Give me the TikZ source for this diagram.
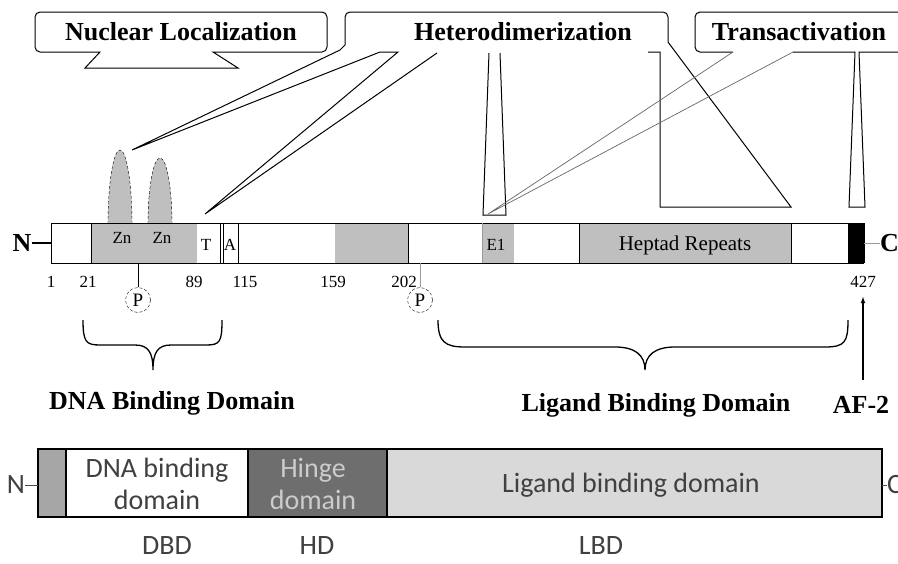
\documentclass[tikz,border=0pt]{standalone}
\usepackage{fontspec}
\setmainfont{Liberation Serif}
\newfontfamily\calib{Carlito}
\usetikzlibrary{arrows}
\tikzstyle{callout}=[line width=1pt]
\tikzstyle{title}=[font=\bfseries\fontsize{26}{28}\selectfont, inner sep=0pt]
\tikzstyle{num}=[font=\fontsize{17}{19}\selectfont, inner sep=0pt]
\tikzstyle{phos}=[circle, draw, densely dashed, thin, minimum size=25pt, inner sep=0pt, font=\fontsize{19}{21}\selectfont]
\tikzstyle{finger}=[fill=black!25, draw, densely dashed, thin]
\tikzstyle{domtext}=[font=\calib\fontsize{28}{32}\selectfont, text=black!75, align=center, inner sep=0pt]
\tikzstyle{brace}=[line width=1.3pt]

\begin{document}
\begin{tikzpicture}[x=1pt,y=-1pt]
  \useasboundingbox (0,0) rectangle (898,563);
  % callouts
  \draw[callout] (100,52) [rounded corners=5pt] -- (35,52) -- (35,12) -- (327,12) -- (327,52) [sharp corners] -- (213,52) -- (238,68) -- (85,68) -- cycle;
  \draw[callout] (648,52) -- (660,52) -- (660,207) -- (791,207) -- (668,42) [rounded corners=5pt] -- (668,12) -- (345,12) [sharp corners] -- (345,45) -- (340,50) -- (132,150) -- (380,52) -- (398,52) -- (205,214) -- (437,53);
  \draw[callout] (489,53) -- (483,215) -- (506,215) -- (500,53);
  \draw[callout] (733,52) [rounded corners=5pt] -- (695,52) -- (695,12) [sharp corners] -- (910,12);
  \draw[callout] (793,52) -- (855,52) -- (849,207) -- (865,207) -- (859,52) -- (910,52);
  \draw[black!60, line width=0.7pt] (733,52) -- (488,214) -- (793,52);
  \node[title] (nucl) at (181,32) {Nuclear Localization};
  \node[title] (hetero) at (523,32) {Heterodimerization};
  \node[title] (trans) at (799,32) {Transactivation};

  % zinc fingers
  \filldraw[finger] (108,224) arc[start angle=180, end angle=360, x radius=12, y radius=74];
  \filldraw[finger] (148,224) arc[start angle=180, end angle=360, x radius=12, y radius=66];

  % receptor bar
  \foreach \a/\b in {91/197, 335/408, 482/514, 579/791}
    \fill[black!25] (\a,223) rectangle (\b,263);
  \fill (848,223) rectangle (864,263);
  \draw[line width=1pt] (51,223) -- (864,223) (51,263) -- (864,263);
  \foreach \x in {51,91,220,223,238,408,579,791,848,864}
    \draw[line width=1pt] (\x,223) -- (\x,263);
  \draw[black!40] (482,223) -- (482,263);
  \node[num] (zn1) at (122,238) {Zn};
  \node[num] (zn2) at (162,238) {Zn};
  \node[num] (thr) at (206,245) {T};
  \node[num] (ala) at (230,245) {A};
  \node[num] (e1) at (496,245) {E1};
  \node[num, font=\fontsize{21}{23}\selectfont] (hept) at (685,245) {Heptad Repeats};
  \coordinate (barw) at (51,243);
  \coordinate (bare) at (864,243);
  \node[title] (nterm) at (22,243) {N};
  \node[title, anchor=west] (cterm) at (880,243) {C};
  \draw[line width=1.2pt] (nterm.east) -- (barw);
  \draw[black!40] (bare) -- (cterm.west);
  \foreach \x/\t in {51/1, 88/21, 194/89, 245/115, 333/159, 404/202, 863/427}
    \node[num] (n\t) at (\x,282) {\t};
  \node[phos] (p1) at (138,300) {P};
  \node[phos] (p2) at (420,300) {P};
  \draw (p1.north) -- (p1.north |- 0,263);
  \draw[black!40] (p2.north) -- (p2.north |- 0,263);

  % braces
  \draw[brace] (83,320) .. controls (83,342) and (86,345) .. (100,345) -- (135,345) .. controls (148,345) and (153,352) .. (153,370) .. controls (153,352) and (158,345) .. (171,345) -- (206,345) .. controls (220,345) and (222,342) .. (222,320);
  \draw[brace] (438,320) .. controls (438,342) and (445,347) .. (465,347) -- (615,347) .. controls (635,347) and (645,355) .. (645,370) .. controls (645,355) and (655,347) .. (675,347) -- (825,347) .. controls (845,347) and (848,342) .. (848,320);
  \node[title] (dbdlab) at (172,403) {DNA Binding Domain};
  \node[title] (lbdlab) at (656,405) {Ligand Binding Domain};
  \node[title] (af2) at (861,405) {AF-2};
  \draw[latex-, line width=1.2pt, shorten <=9pt, shorten >=16pt] (n427.south) -- (n427.south |- af2.north);

  % domain scheme
  \fill[black!35] (38,449) rectangle (66,517);
  \fill[black!57] (248,449) rectangle (387,517);
  \fill[black!15] (387,449) rectangle (882,517);
  \draw[line width=2pt] (38,449) rectangle (882,517);
  \foreach \x in {66,248,387}
    \draw[line width=1.5pt] (\x,449) -- (\x,517);
  \node[domtext] (dbdtext) at (157,484) {DNA binding\\domain};
  \node[domtext, text=black!20] (hdtext) at (313,484) {Hinge\\domain};
  \node[domtext] (lbdtext) at (631,485) {Ligand binding domain};
  \node[domtext] (dbd) at (167,546) {DBD};
  \node[domtext] (hd) at (317,546) {HD};
  \node[domtext] (lbd) at (601,546) {LBD};
  \node[domtext] (nb) at (16,485) {N};
  \node[domtext, anchor=west] (cb) at (887,485) {C};
  \draw[black!70] (nb.east) -- (38,485);
  \draw[black!70] (882,485) -- (cb.west);
\end{tikzpicture}
\end{document}
